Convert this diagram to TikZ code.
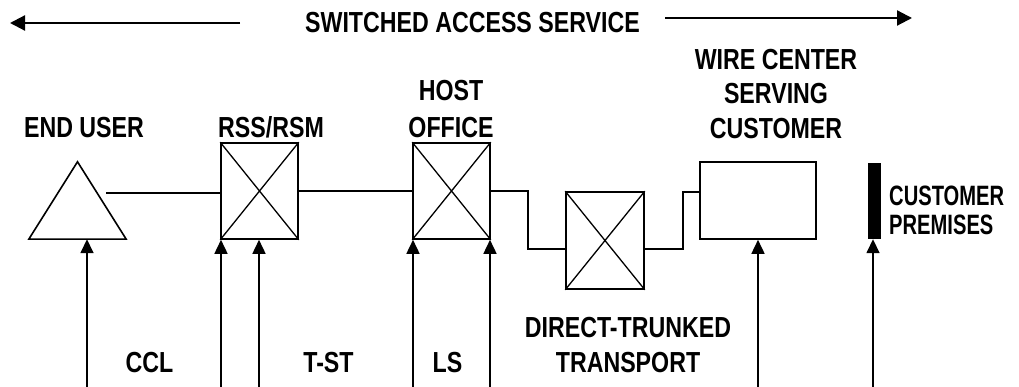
\documentclass[tikz,border=0pt]{standalone}
\usepackage{fontspec}
\newfontfamily\lblfont{Liberation Sans}[FakeStretch=0.80]
\newfontfamily\narrowlblfont{Liberation Sans}[FakeStretch=0.72]
\usetikzlibrary{arrows.meta,calc}
\begin{document}
\begin{tikzpicture}[x=1pt,y=-1pt,
  lbl/.style={inner sep=0pt,font=\lblfont\bfseries\fontsize{29}{34}\selectfont},
  wire/.style={line width=1.6pt},
  xbox/.style={draw,line width=1.6pt,minimum width=#1,inner sep=0pt},
  xline/.style={line width=1.3pt},
  up/.style={line width=1.6pt,-{Triangle[length=14pt,width=13pt]}},
  top/.style={line width=2.2pt,-{Triangle[length=15pt,width=15pt]}}]
\useasboundingbox (0,0) rectangle (1019,387);

% top title
\node[lbl] (title) at (472.5,22.5) {SWITCHED ACCESS SERVICE};
\coordinate (ls) at (240,23);
\coordinate (lt) at (10,23);
\coordinate (rs) at (665,18);
\coordinate (rt) at (912,18);
\draw[top] (ls) -- (lt);
\draw[top] (rs) -- (rt);

% end user triangle
\node[inner sep=0pt,minimum width=97pt,minimum height=77pt] (eu) at (77.5,200.5) {};
\draw[line width=1.6pt,line join=miter] (eu.south west) -- (eu.north) -- (eu.south east) -- cycle;
\coordinate (eul) at (106,193);

% switches and boxes
\node[xbox=77pt,minimum height=96pt] (rss) at (259.5,191) {};
\node[xbox=77pt,minimum height=96pt] (host) at (451.5,191) {};
\node[xbox=78pt,minimum height=97pt] (dt) at (605,240.5) {};
\foreach \b in {rss,host,dt}{
  \draw[xline] (\b.north west) -- (\b.south east) (\b.north east) -- (\b.south west);
}
\node[draw,line width=1.6pt,minimum width=116pt,minimum height=77pt,inner sep=0pt] (wc) at (758,200.5) {};
\node[fill=black,minimum width=13pt,minimum height=76pt,inner sep=0pt] (cp) at (874.5,201) {};

% connections
\draw[wire] (eul) -- (rss.west |- eul);
\draw[wire] (rss.east) -- (host.west);
\draw[wire] (host.east) -- ++(37,0) |- ($(dt.west)+(0,8.5)$);
\draw[wire] ($(dt.east)+(0,8.5)$) -- ++(38,0) |- ($(wc.west)+(0,-8.5)$);

% labels
\node[lbl] (leu) at (84,127.5) {END USER};
\node[lbl] (lrss) at (271,127.5) {RSS/RSM};
\node[lbl,align=center,font=\lblfont\bfseries\fontsize{29}{37}\selectfont] (lhost) at (451,109.5) {HOST\\OFFICE};
\node[lbl,align=center,font=\lblfont\bfseries\fontsize{29}{34.5}\selectfont] (lwc) at (776,94) {WIRE CENTER\\SERVING\\CUSTOMER};
\node[lbl,align=left,anchor=west,font=\narrowlblfont\bfseries\fontsize{28}{29}\selectfont] (lcp) at (889,210.5) {CUSTOMER\\PREMISES};
\node[lbl] (lccl) at (149.5,363) {CCL};
\node[lbl] (ltst) at (328.5,363) {T-ST};
\node[lbl] (lls) at (447.5,363) {LS};
\node[lbl,align=center,font=\lblfont\bfseries\fontsize{29}{35}\selectfont] (ldt) at (628,345) {DIRECT-TRUNKED\\TRANSPORT};

% bottom arrows
\coordinate (b1) at (87,387);
\coordinate (b2) at (221,387);
\coordinate (b3) at (259,387);
\coordinate (b4) at (413,387);
\coordinate (b5) at (490,387);
\coordinate (b6) at (758,387);
\coordinate (b7) at (873,387);
\draw[up] (b1) -- (b1 |- eu.south);
\draw[up] (b2) -- (b2 |- rss.south);
\draw[up] (b3) -- (b3 |- rss.south);
\draw[up] (b4) -- (b4 |- host.south);
\draw[up] (b5) -- (b5 |- host.south);
\draw[up] (b6) -- (b6 |- wc.south);
\draw[up] (b7) -- (b7 |- cp.south);
\end{tikzpicture}
\end{document}
